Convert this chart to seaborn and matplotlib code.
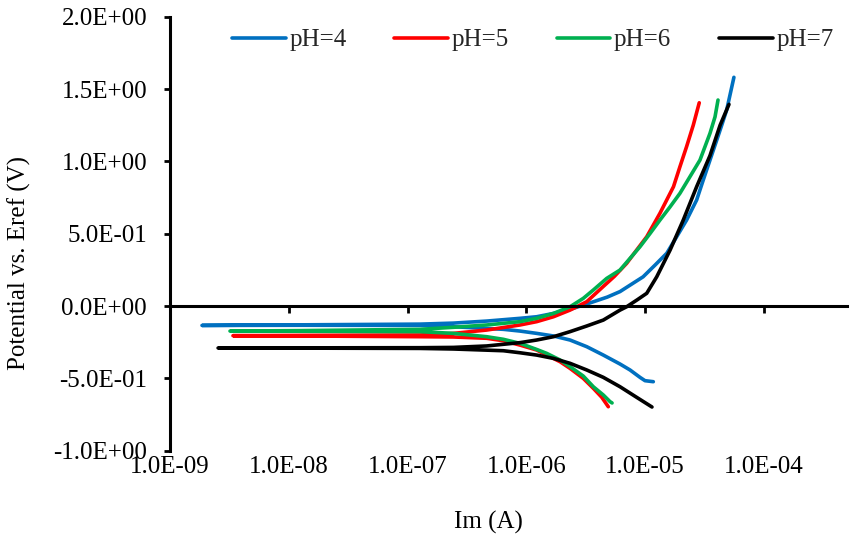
import numpy as np
import pandas as pd
import matplotlib
matplotlib.use("Agg")
import matplotlib.pyplot as plt
import matplotlib.ticker as mticker
import seaborn as sns

# ---- data (current in A, potential in V), cathodic end -> Ecorr tip -> anodic end ----
labels = ["pH=4", "pH=5", "pH=6", "pH=7"]
colors = ["#0070C0", "#FF0000", "#00B050", "#000000"]

ph4_I = [1.17e-5, 9.96e-6, 9.04e-6, 7.45e-6, 6.14e-6, 4.44e-6, 3.22e-6, 2.33e-6, 1.69e-6,
         1.22e-6, 8.83e-7, 6.40e-7, 2.43e-7, 1.27e-7, 1.24e-8, 1.86e-9,
         1.24e-8, 1.27e-7, 2.43e-7, 4.63e-7, 8.83e-7, 1.22e-6, 1.69e-6, 2.33e-6, 3.22e-6,
         4.8e-6, 6.14e-6, 7.0e-6, 9.6e-6, 1.21e-5, 1.52e-5, 1.84e-5, 2.23e-5, 2.71e-5,
         3.08e-5, 3.51e-5, 4.0e-5, 4.41e-5, 4.85e-5, 5.58e-5]
ph4_E = [-0.523, -0.516, -0.493, -0.442, -0.401, -0.339, -0.281, -0.235, -0.207,
         -0.189, -0.173, -0.161, -0.143, -0.134, -0.133, -0.134,
         -0.130, -0.125, -0.118, -0.104, -0.085, -0.074, -0.051, -0.023, 0.014,
         0.062, 0.100, 0.130, 0.202, 0.283, 0.365, 0.479, 0.594, 0.733,
         0.871, 1.009, 1.147, 1.251, 1.355, 1.581]

ph5_I = [4.89e-6, 4.31e-6, 3.66e-6, 3.01e-6, 2.33e-6, 1.92e-6, 1.48e-6, 1.22e-6, 8.83e-7,
         6.40e-7, 4.63e-7, 2.43e-7, 1.27e-7, 1.24e-8, 3.39e-9,
         1.24e-8, 1.27e-7, 2.43e-7, 4.63e-7, 8.83e-7, 1.22e-6, 1.69e-6, 2.33e-6, 3.22e-6,
         4.17e-6, 5.5e-6, 6.98e-6, 8.47e-6, 1.03e-5, 1.33e-5, 1.73e-5, 1.96e-5, 2.23e-5,
         2.54e-5, 2.85e-5]
ph5_E = [-0.696, -0.631, -0.569, -0.500, -0.431, -0.385, -0.339, -0.304, -0.270,
         -0.240, -0.223, -0.214, -0.212, -0.207, -0.205,
         -0.203, -0.200, -0.189, -0.166, -0.131, -0.108, -0.074, -0.028, 0.030,
         0.115, 0.205, 0.295, 0.387, 0.479, 0.641, 0.825, 0.963, 1.102,
         1.251, 1.405]

ph6_I = [5.26e-6, 5.06e-6, 4.44e-6, 3.66e-6, 3.01e-6, 2.33e-6, 1.92e-6, 1.48e-6, 1.22e-6,
         8.83e-7, 6.40e-7, 4.63e-7, 2.43e-7, 1.27e-7, 1.24e-8, 3.2e-9,
         1.24e-8, 1.27e-7, 2.43e-7, 4.63e-7, 8.83e-7, 1.22e-6, 1.69e-6, 2.33e-6, 3.01e-6,
         3.66e-6, 4.74e-6, 6.14e-6, 9.04e-6, 1.10e-5, 1.33e-5, 1.62e-5, 1.96e-5, 2.38e-5,
         2.89e-5, 3.51e-5, 3.87e-5, 4.1e-5]
ph6_E = [-0.670, -0.661, -0.615, -0.558, -0.484, -0.419, -0.373, -0.327, -0.300,
         -0.258, -0.230, -0.212, -0.189, -0.177, -0.174, -0.173,
         -0.170, -0.161, -0.147, -0.131, -0.108, -0.085, -0.051, -0.005, 0.053,
         0.111, 0.191, 0.249, 0.410, 0.502, 0.594, 0.686, 0.779, 0.894,
         1.009, 1.194, 1.308, 1.424]

ph7_I = [1.14e-5, 8.47e-6, 6.14e-6, 4.44e-6, 3.22e-6, 2.33e-6, 1.69e-6, 1.22e-6, 8.83e-7,
         6.40e-7, 2.43e-7, 1.27e-7, 1.24e-8, 2.54e-9,
         1.24e-8, 1.27e-7, 2.43e-7, 4.63e-7, 8.83e-7, 1.22e-6, 1.69e-6, 2.33e-6, 3.22e-6,
         4.44e-6, 6.14e-6, 6.98e-6, 8.6e-6, 1.03e-5, 1.25e-5, 1.62e-5, 2.09e-5, 2.71e-5,
         3.51e-5, 4.27e-5, 5.07e-5]
ph7_E = [-0.698, -0.631, -0.558, -0.493, -0.442, -0.396, -0.362, -0.339, -0.323,
         -0.309, -0.297, -0.293, -0.291, -0.290,
         -0.289, -0.288, -0.286, -0.276, -0.253, -0.235, -0.212, -0.177, -0.138,
         -0.097, -0.028, -0.005, 0.044, 0.088, 0.202, 0.387, 0.594, 0.825,
         1.040, 1.250, 1.394]

x_ticks = [1e-9, 1e-8, 1e-7, 1e-6, 1e-5, 1e-4]
y_ticks = [-1.0, -0.5, 0.0, 0.5, 1.0, 1.5, 2.0]

series_I = [ph4_I, ph5_I, ph6_I, ph7_I]
series_E = [ph4_E, ph5_E, ph6_E, ph7_E]
frames = []
for lab, I, E in zip(labels, series_I, series_E):
    frames.append(pd.DataFrame({"I": I, "E": E, "pH": lab}))
df = pd.concat(frames, ignore_index=True)

# ---- styling ----
sns.set_theme(style="white")
plt.rcParams["font.family"] = ["Liberation Serif", "DejaVu Serif"]
plt.rcParams["font.size"] = 18

fig = plt.figure(figsize=(8.51, 5.42), dpi=100)
ax = fig.add_axes([170 / 851, 1 - 450.7 / 542, (846.7 - 170) / 851, (450.7 - 16.7) / 542])

sns.lineplot(data=df, x="I", y="E", hue="pH", hue_order=labels, palette=colors,
             sort=False, estimator=None, linewidth=2.6, ax=ax,
             solid_capstyle="round", solid_joinstyle="round")

ax.set_xscale("log")
ax.set_xlim(1e-9, 10 ** -3.304)
ax.set_ylim(-1.0, 2.0)
ax.set_xticks(x_ticks)
ax.xaxis.set_minor_locator(mticker.NullLocator())
ax.xaxis.set_major_formatter(mticker.FuncFormatter(lambda v, p: f"{v:.1E}"))
ax.set_yticks(y_ticks)
ax.yaxis.set_major_formatter(mticker.FuncFormatter(lambda v, p: f"{v:.1E}"))

for s in ["right", "bottom"]:
    ax.spines[s].set_visible(False)
ax.spines["top"].set_position(("data", 0))
for s in ["top", "left"]:
    ax.spines[s].set_color("black")
    ax.spines[s].set_linewidth(2.2)

ax.tick_params(axis="x", which="major", bottom=False, top=True, labelbottom=True,
               labeltop=False, direction="in", length=5, width=2, color="black",
               labelsize=18, pad=4, labelcolor="black")
ax.tick_params(axis="y", which="major", left=True, direction="out", length=4.5,
               width=2, color="black", labelsize=18, pad=12, labelcolor="black")

ax.set_xlabel("Im (A)", fontsize=18, color="black")
ax.set_ylabel("Potential vs. Eref (V)", fontsize=18, color="black")
ax.xaxis.set_label_coords(0.47, -0.139)
ax.yaxis.set_label_coords(-0.205, 0.432)

handles, labs = ax.get_legend_handles_labels()
ax.legend(handles, labs, loc="center left", bbox_to_anchor=(232 / 851, 1 - 40 / 542),
          bbox_transform=fig.transFigure, ncol=4, frameon=False, fontsize=18,
          handlelength=2.15, handletextpad=0.15, columnspacing=1.9,
          borderpad=0, borderaxespad=0)
for line in ax.get_legend().get_lines():
    line.set_linewidth(2.6)

fig.savefig("out.png", dpi=100)
